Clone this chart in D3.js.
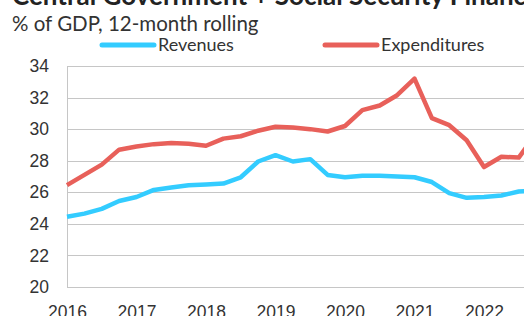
<!DOCTYPE html>
<html>
<head>
<meta charset="utf-8">
<script src="https://cdn.jsdelivr.net/npm/d3@7"></script>
<style>
  body { margin: 0; background: #fff; }
  svg { display: block; }
  .tick text { font-family: "Liberation Sans", Arial, sans-serif; font-size: 17.5px; fill: #333; }
</style>
</head>
<body>
<svg id="chart" width="524" height="316"></svg>
<script>
// quarterly points, year as decimal
const periods = [2016, 2016.25, 2016.5, 2016.75, 2017, 2017.25, 2017.5, 2017.75,
    2018, 2018.25, 2018.5, 2018.75, 2019, 2019.25, 2019.5, 2019.75,
    2020, 2020.25, 2020.5, 2020.75, 2021, 2021.25, 2021.5, 2021.75,
    2022, 2022.25, 2022.5, 2022.75, 2023];
const revenues = [24.45, 24.65, 24.95, 25.45, 25.7, 26.15, 26.3, 26.45,
    26.5, 26.55, 26.95, 27.95, 28.35, 27.95, 28.1, 27.1,
    26.95, 27.05, 27.05, 27.0, 26.95, 26.65, 25.95, 25.65,
    25.7, 25.8, 26.05, 26.1, 26.3];
const expenditures = [26.45, 27.1, 27.75, 28.7, 28.9, 29.05, 29.12, 29.08,
    28.95, 29.4, 29.55, 29.9, 30.15, 30.1, 30.0, 29.85,
    30.2, 31.2, 31.5, 32.15, 33.2, 30.7, 30.25, 29.3,
    27.6, 28.25, 28.2, 29.7, 31.0];
const yTicks = [20, 22, 24, 26, 28, 30, 32, 34];
const xTicks = [2016, 2017, 2018, 2019, 2020, 2021, 2022, 2023];

const svg = d3.select("#chart");
const plotLeft = 67, plotTop = 66, plotBottom = 287;

const x = d3.scaleLinear().domain([2016, 2023]).range([plotLeft, plotLeft + 7 * 69.5]);
const y = d3.scaleLinear().domain([20, 34]).range([plotBottom, plotTop]);

// gridlines
svg.append("g")
    .selectAll("line")
    .data(yTicks)
    .join("line")
    .attr("x1", plotLeft).attr("x2", 524)
    .attr("y1", d => Math.round(y(d)) + 0.5).attr("y2", d => Math.round(y(d)) + 0.5)
    .attr("stroke", "#c6c6c6").attr("stroke-width", 1);

svg.append("line")
    .attr("x1", plotLeft + 0.5).attr("x2", plotLeft + 0.5)
    .attr("y1", plotTop).attr("y2", plotBottom)
    .attr("stroke", "#c6c6c6");

const yAxis = svg.append("g")
    .attr("transform", `translate(${plotLeft},0)`)
    .call(d3.axisLeft(y).tickValues(yTicks).tickSize(0).tickPadding(18));
yAxis.select(".domain").remove();

const xAxis = svg.append("g")
    .attr("transform", `translate(0,${plotBottom})`)
    .call(d3.axisBottom(x).tickValues(xTicks).tickFormat(d3.format("d")).tickSize(0).tickPadding(19));
xAxis.select(".domain").remove();

const line = d3.line().x((d, i) => x(periods[i])).y(d => y(d));

svg.append("path")
    .datum(revenues)
    .attr("d", line)
    .attr("fill", "none")
    .attr("stroke", "#33ccff")
    .attr("stroke-width", 4.5)
    .attr("stroke-linejoin", "round");

svg.append("path")
    .datum(expenditures)
    .attr("d", line)
    .attr("fill", "none")
    .attr("stroke", "#e8605a")
    .attr("stroke-width", 4.5)
    .attr("stroke-linejoin", "round");

// title and subtitle
svg.append("text")
    .attr("x", 12).attr("y", 5)
    .attr("font-family", "Lato, sans-serif")
    .attr("font-weight", "bold")
    .attr("font-size", 26)
    .attr("fill", "#222")
    .text("Central Government + Social Security Finances");

svg.append("text")
    .attr("x", 12).attr("y", 31)
    .attr("font-family", "Lato, sans-serif")
    .attr("font-size", 20.5)
    .attr("fill", "#333")
    .text("% of GDP, 12-month rolling");

// legend
const legend = [
    { name: "Revenues", color: "#33ccff", x: 102 },
    { name: "Expenditures", color: "#e8605a", x: 325 }
];
const lg = svg.append("g").selectAll("g").data(legend).join("g")
    .attr("transform", d => `translate(${d.x},45)`);
lg.append("line")
    .attr("x1", 0).attr("x2", 52)
    .attr("stroke", d => d.color)
    .attr("stroke-width", 5)
    .attr("stroke-linecap", "round");
lg.append("text")
    .attr("x", 56).attr("y", 6)
    .attr("font-family", "Lato, sans-serif")
    .attr("font-size", 18)
    .attr("fill", "#333")
    .text(d => d.name);
</script>
</body>
</html>
